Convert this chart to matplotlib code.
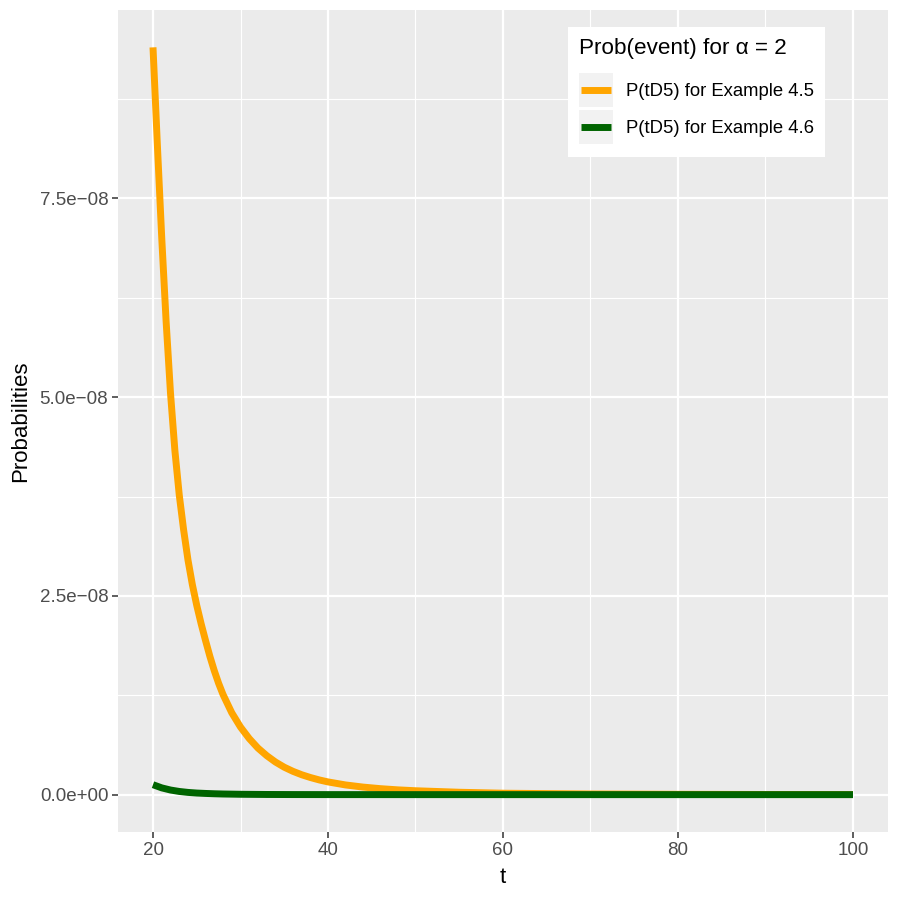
import numpy as np
import matplotlib
matplotlib.use("Agg")
import matplotlib.pyplot as plt
from matplotlib.legend_handler import HandlerLine2D
from matplotlib.patches import Rectangle
from matplotlib.lines import Line2D
from matplotlib.ticker import FixedLocator, FuncFormatter

plt.rcParams['font.family'] = ['Liberation Sans', 'DejaVu Sans']

# values
t_ex45 = [20, 20.5, 21, 21.5, 22, 22.5, 23, 23.5, 24, 24.5, 25, 25.5, 26, 26.5, 27, 27.5,
          28, 29, 30, 31, 32, 33, 34, 35, 36, 37, 38, 39, 40, 42, 44, 46, 48, 50,
          55, 60, 70, 80, 90, 100]
p_ex45 = [9.40, 8.17, 7.00, 5.95, 5.05, 4.33, 3.77, 3.33, 2.95, 2.64, 2.38, 2.15, 1.94,
          1.74, 1.56, 1.40, 1.26, 1.03, 0.85, 0.705, 0.585, 0.49, 0.41, 0.345, 0.293,
          0.25, 0.215, 0.185, 0.16, 0.122, 0.095, 0.075, 0.06, 0.049, 0.03, 0.018,
          0.008, 0.004, 0.002, 0.001]   # x 1e-8
t_ex46 = [20, 21, 22, 23, 24, 25, 26, 27, 28, 30, 33, 36, 40, 50, 60, 80, 100]
p_ex46 = [1.25, 0.85, 0.58, 0.40, 0.28, 0.20, 0.15, 0.11, 0.08, 0.045, 0.02, 0.01, 0.005,
          0.001, 0.0003, 0.0001, 0.00003]      # x 1e-9

labels = ["P(tD5) for Example 4.5", "P(tD5) for Example 4.6"]
line_colors = ["#FFA500", "#006400"]
x_ticks = [20, 40, 60, 80, 100]
y_ticks = [0.0, 2.5e-8, 5.0e-8, 7.5e-8]


class KeyHandler(HandlerLine2D):
    # ggplot style legend key: grey box with a line across it
    def create_artists(self, legend, orig_handle, xdescent, ydescent, width, height, fontsize, trans):
        bg = Rectangle((-xdescent, -ydescent + 1), width, height - 2,
                       facecolor="#F2F2F2", edgecolor="none", transform=trans)
        y = height / 2 - ydescent
        pad = width * 0.06
        ln = Line2D([-xdescent + pad, -xdescent + width - pad], [y, y], color=orig_handle.get_color(),
                    lw=orig_handle.get_linewidth(), solid_capstyle="butt", transform=trans)
        return [bg, ln]


def sci_label(v, _):
    return f"{v:.1e}".replace("-", "\u2212")


fig = plt.figure(figsize=(9, 9), dpi=100)
ax = fig.add_axes([118 / 900, 1 - 832 / 900, (888 - 118) / 900, (832 - 10) / 900])
ax.set_facecolor("#EBEBEB")

l1, = ax.plot(t_ex45, np.array(p_ex45) * 1e-8, color=line_colors[0], lw=5,
              solid_capstyle="butt", solid_joinstyle="round", zorder=3)
l2, = ax.plot(t_ex46, np.array(p_ex46) * 1e-9, color=line_colors[1], lw=5,
              solid_capstyle="butt", solid_joinstyle="round", zorder=4)

ax.set_xlim(16, 104)
ax.set_ylim(-0.047e-7, 0.987e-7)
ax.xaxis.set_major_locator(FixedLocator(x_ticks))
ax.xaxis.set_minor_locator(FixedLocator([30, 50, 70, 90]))
ax.yaxis.set_major_locator(FixedLocator(y_ticks))
ax.yaxis.set_minor_locator(FixedLocator([1.25e-8, 3.75e-8, 6.25e-8, 8.75e-8]))
ax.yaxis.set_major_formatter(FuncFormatter(sci_label))
ax.grid(which="major", color="white", lw=1.6)
ax.grid(which="minor", color="white", lw=0.8)
ax.set_axisbelow(True)
for s in ax.spines.values():
    s.set_visible(False)
ax.tick_params(which="major", length=4, width=1.1, color="#333333", labelcolor="#4D4D4D",
               labelsize=13.5, pad=3)
ax.tick_params(which="minor", length=0)

ax.set_xlabel("t", fontsize=16, labelpad=6)
ax.set_ylabel("Probabilities", fontsize=16, labelpad=6)

leg = ax.legend([l1, l2], labels, title="Prob(event) for α = 2",
                handler_map={Line2D: KeyHandler()},
                loc="upper right", bbox_to_anchor=(825 / 900, 1 - 27 / 900),
                bbox_transform=fig.transFigure, borderaxespad=0,
                fontsize=13.3, title_fontsize=16.2, frameon=True, fancybox=False,
                handlelength=1.85, handleheight=2.7, labelspacing=0.0, handletextpad=0.7,
                borderpad=0.6, alignment="left")
leg._legend_box.sep = 9
leg.get_frame().set_facecolor("white")
leg.get_frame().set_edgecolor("none")
leg.get_frame().set_alpha(1)

plt.savefig("out.png", dpi=100)
